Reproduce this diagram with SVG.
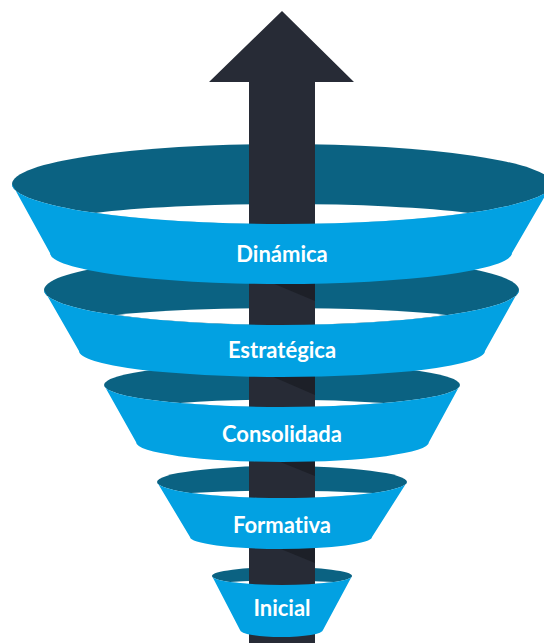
<svg xmlns="http://www.w3.org/2000/svg" width="544" height="643" viewBox="0 0 544 643">
<style>
.rim{fill:#0b6282}
.hole{fill:#ffffff}
.band{fill:#02a1e2}
.shaft{fill:#272b36}
.shade{fill:#1d2028}
.lbl{font-family:Lato,"Open Sans","Liberation Sans",sans-serif;font-weight:700;font-size:22px;fill:#ffffff;text-anchor:middle;font-variant-ligatures:none}
</style>
<rect width="544" height="643" fill="#ffffff"/>
<g id="connectors">
<polygon id="arrow" class="shaft" points="282,11 354,82 315,82 315,643 249,643 249,82 209,82"/>
</g>
<g id="inicial">
<ellipse class="rim" cx="282" cy="576" rx="70" ry="9"/>
<path class="hole" d="M230 582 A100 10 0 0 1 334 582 A70 9 0 0 1 230 582 Z"/>
<rect class="shaft" x="249" y="567" width="66" height="18"/>
<polygon class="shade" points="271,545 315,545 315,563"/>
<path class="band" d="M212 576 L240 630 A41.5 7 0 0 0 323 630 L352 576 A70 9 0 0 1 212 576 Z"/>
<text class="lbl" x="282" y="616">Inicial</text>
</g>
<g id="formativa">
<ellipse class="rim" cx="282" cy="482" rx="125" ry="16"/>
<path class="hole" d="M191 493 A200 20 0 0 1 373 493 A125 16 0 0 1 191 493 Z"/>
<rect class="shaft" x="249" y="466" width="66" height="32"/>
<polygon class="shade" points="268,457 315,457 315,476"/>
<path class="band" d="M157 482 L190 537 A91 12 0 0 0 372 537 L407 482 A125 16 0 0 1 157 482 Z"/>
<text class="lbl" x="282" y="533">Formativa</text>
</g>
<g id="consolidada">
<ellipse class="rim" cx="282" cy="385" rx="178" ry="22"/>
<path class="hole" d="M180 403 A200 24 0 0 1 384 403 A178 22 0 0 1 180 403 Z"/>
<rect class="shaft" x="249" y="363" width="66" height="44"/>
<polygon class="shade" points="262,372 315,372 315,395"/>
<path class="band" d="M104 385 L136 442 A146.5 20 0 0 0 429 442 L460 385 A178 22 0 0 1 104 385 Z"/>
<text class="lbl" x="282" y="442">Consolidada</text>
</g>
<g id="estrategica">
<ellipse class="rim" cx="281.5" cy="290" rx="237.5" ry="35"/>
<path class="hole" d="M117 315 A208 18 0 0 1 446 315 A237.5 35 0 0 1 117 315 Z"/>
<rect class="shaft" x="249" y="255" width="66" height="70"/>
<polygon class="shade" points="265,280 315,280 315,301"/>
<path class="band" d="M44 290 L79 351 A203 26 0 0 0 485 351 L519 290 A237.5 35 0 0 1 44 290 Z"/>
<text class="lbl" x="282" y="358">Estratégica</text>
</g>
<g id="dinamica">
<ellipse class="rim" cx="282" cy="184" rx="270" ry="40"/>
<path class="hole" d="M95 213 A224 20 0 0 1 469 213 A270 40 0 0 1 95 213 Z"/>
<rect class="shaft" x="249" y="144" width="66" height="80"/>
<path class="band" d="M12 184 L50 253 A231 31 0 0 0 512 253 L552 184 A270 40 0 0 1 12 184 Z"/>
<text class="lbl" x="282" y="262">Dinámica</text>
</g>
</svg>
